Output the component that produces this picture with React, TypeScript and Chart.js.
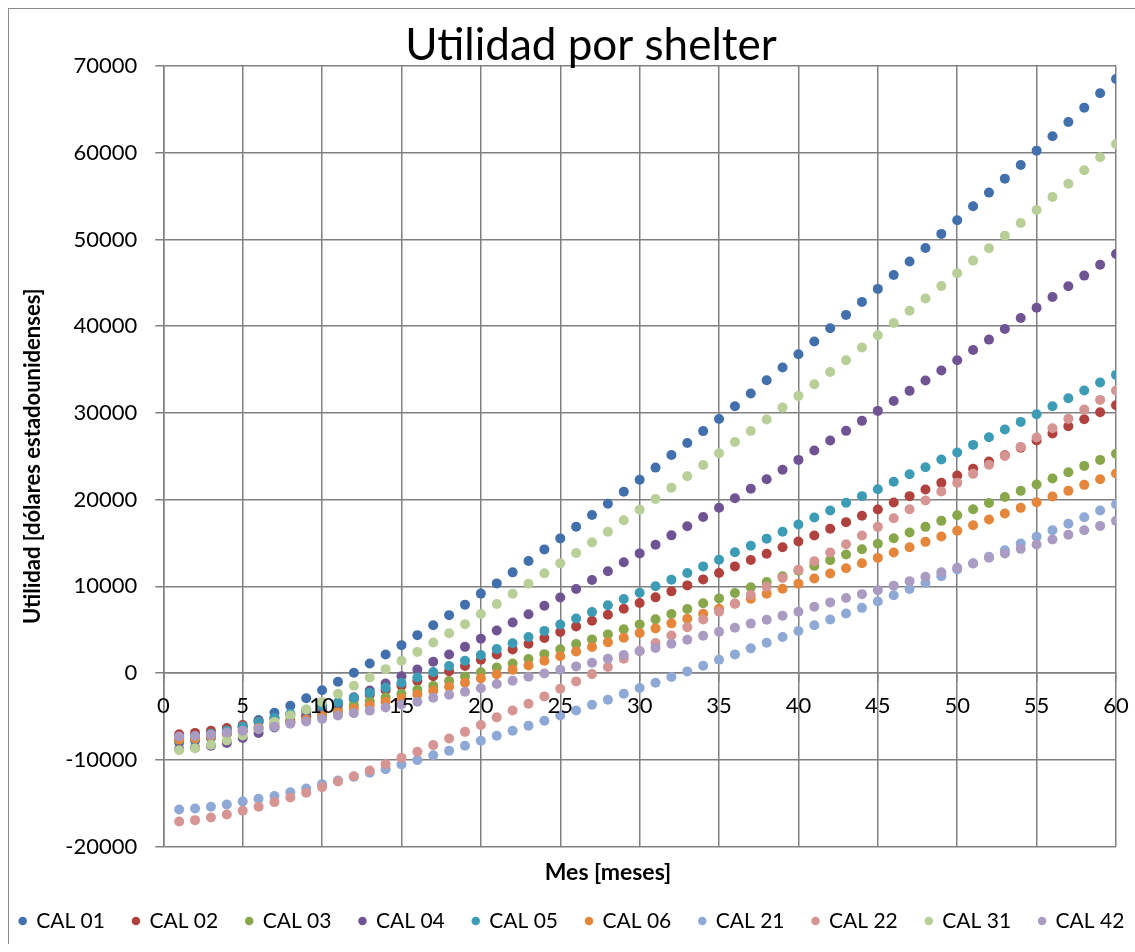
import { useEffect, useRef } from "react";
import { Chart, registerables } from "chart.js";

Chart.register(...registerables);

// Month index (x axis)
const MONTHS = [
  1, 2, 3, 4, 5, 6, 7, 8, 9, 10, 11, 12, 13, 14, 15, 16, 17, 18, 19, 20,
  21, 22, 23, 24, 25, 26, 27, 28, 29, 30, 31, 32, 33, 34, 35, 36, 37, 38, 39, 40,
  41, 42, 43, 44, 45, 46, 47, 48, 49, 50, 51, 52, 53, 54, 55, 56, 57, 58, 59, 60,
];

// Accumulated profit per shelter type, USD
const CAL_01 = [
  -8000, -7800, -7450, -6950, -6250, -5420, -4570, -3770, -2910, -1990,
  -1010, 30, 1100, 2140, 3220, 4370, 5520, 6680, 7890, 9160,
  10340, 11610, 12920, 14260, 15530, 16880, 18230, 19530, 20920, 22300,
  23690, 25150, 26530, 27900, 29300, 30770, 32230, 33770, 35230, 36760,
  38230, 39760, 41300, 42800, 44300, 45910, 47450, 49020, 50640, 52210,
  53830, 55400, 57010, 58590, 60240, 61890, 63550, 65200, 66860, 68510,
];
const CAL_02 = [
  -7050, -6900, -6650, -6350, -5980, -5600, -5220, -4820, -4400, -3960,
  -3500, -3000, -2500, -1980, -1450, -900, -360, 220, 820, 1530,
  2150, 2730, 3380, 4040, 4730, 5380, 6040, 6730, 7420, 8070,
  8730, 9420, 10110, 10800, 11540, 12300, 13030, 13760, 14500, 15180,
  15860, 16630, 17400, 18130, 18860, 19670, 20400, 21170, 21930, 22780,
  23550, 24390, 25120, 25970, 26810, 27620, 28460, 29270, 30080, 30890,
];
const CAL_03 = [
  -7750, -7600, -7350, -7050, -6650, -6250, -5800, -5400, -5000, -4600,
  -4150, -3700, -3250, -2820, -2380, -1930, -1480, -920, -420, 100,
  630, 1110, 1620, 2180, 2740, 3340, 3880, 4460, 5040, 5610,
  6190, 6810, 7380, 8040, 8610, 9230, 9880, 10500, 11150, 11800,
  12360, 13020, 13670, 14280, 14900, 15550, 16200, 16860, 17550, 18200,
  18890, 19620, 20310, 21010, 21740, 22430, 23160, 23890, 24580, 25280,
];
const CAL_04 = [
  -8750, -8600, -8380, -8060, -7480, -6900, -6280, -5640, -4970, -4280,
  -3560, -2800, -2020, -1210, -360, 410, 1300, 2140, 3020, 3970,
  4900, 5820, 6780, 7760, 8720, 9700, 10730, 11730, 12770, 13800,
  14800, 15880, 16920, 17990, 19070, 20150, 21260, 22340, 23450, 24580,
  25660, 26810, 27930, 29080, 30230, 31380, 32540, 33730, 34880, 36070,
  37260, 38450, 39680, 40950, 42120, 43370, 44600, 45830, 47090, 48320,
];
const CAL_05 = [
  -7400, -7250, -7000, -6650, -6150, -5650, -5150, -4700, -4230, -3800,
  -3370, -2850, -2280, -1680, -1110, -510, 110, 800, 1420, 2090,
  2760, 3440, 4160, 4860, 5590, 6290, 7040, 7810, 8540, 9270,
  10000, 10770, 11540, 12300, 13070, 13920, 14690, 15500, 16300, 17140,
  17930, 18740, 19630, 20400, 21200, 22050, 22930, 23740, 24620, 25430,
  26310, 27200, 28080, 28960, 29850, 30770, 31690, 32580, 33500, 34380,
];
const CAL_06 = [
  -7650, -7500, -7250, -7000, -6700, -6350, -6050, -5700, -5350, -4950,
  -4550, -4120, -3720, -3320, -2920, -2480, -2030, -1580, -1120, -610,
  -130, 370, 870, 1410, 1940, 2480, 3000, 3540, 4080, 4610,
  5150, 5730, 6270, 6840, 7420, 8000, 8570, 9150, 9730, 10310,
  10900, 11480, 12090, 12670, 13280, 13900, 14510, 15130, 15740, 16400,
  17050, 17710, 18400, 19050, 19700, 20360, 21010, 21700, 22350, 23010,
];
const CAL_21 = [
  -15730, -15610, -15420, -15150, -14810, -14500, -14190, -13740, -13310, -12810,
  -12380, -11970, -11500, -11080, -10540, -10040, -9470, -8970, -8390, -7810,
  -7230, -6650, -6080, -5500, -4880, -4310, -3650, -3080, -2380, -1730,
  -1120, -460, 190, 850, 1540, 2150, 2850, 3500, 4150, 4840,
  5520, 6180, 6870, 7520, 8250, 8980, 9690, 10380, 11170, 11940,
  12650, 13400, 14170, 14940, 15710, 16470, 17210, 17970, 18740, 19470,
];
const CAL_22 = [
  -17110, -16960, -16650, -16300, -15880, -15420, -14880, -14350, -13810, -13150,
  -12500, -11890, -11240, -10500, -9770, -9080, -8310, -7540, -6780, -5980,
  -5110, -4310, -3540, -2690, -1810, -960, -120, 690, 1650, 2550,
  3460, 4340, 5280, 6170, 7060, 8030, 9000, 9970, 10970, 11900,
  12900, 13900, 14860, 15860, 16860, 17860, 18890, 19890, 20930, 21930,
  22970, 24010, 25040, 26080, 27160, 28230, 29310, 30380, 31500, 32580,
];
const CAL_31 = [
  -8900, -8680, -8260, -7760, -7200, -6450, -5630, -4880, -4200, -3330,
  -2400, -1470, -510, 450, 1410, 2440, 3520, 4600, 5640, 6820,
  7960, 9150, 10300, 11500, 12650, 13840, 15070, 16300, 17610, 18840,
  20070, 21380, 22690, 23990, 25340, 26650, 27910, 29230, 30610, 31960,
  33310, 34720, 36070, 37530, 38950, 40370, 41780, 43180, 44640, 46100,
  47560, 48990, 50440, 51900, 53400, 54900, 56430, 57970, 59470, 61010,
];
const CAL_42 = [
  -7310, -7250, -7100, -6850, -6660, -6430, -6200, -5850, -5580, -5300,
  -4900, -4620, -4330, -3980, -3620, -3300, -2850, -2500, -2150, -1760,
  -1270, -880, -420, -60, 380, 770, 1190, 1650, 2080, 2520,
  2900, 3380, 3840, 4310, 4770, 5230, 5700, 6150, 6620, 7070,
  7640, 8150, 8650, 9100, 9560, 10080, 10600, 11100, 11630, 12130,
  12630, 13290, 13790, 14320, 14820, 15400, 15940, 16470, 16970, 17550,
];

const SERIES_NAMES = [
  "CAL 01", "CAL 02", "CAL 03", "CAL 04", "CAL 05",
  "CAL 06", "CAL 21", "CAL 22", "CAL 31", "CAL 42",
];
const SERIES_VALUES = [
  CAL_01, CAL_02, CAL_03, CAL_04, CAL_05,
  CAL_06, CAL_21, CAL_22, CAL_31, CAL_42,
];
const SERIES_COLORS = [
  "#4270AC", "#B0413D", "#87A74A", "#6F5393", "#3D9CB5",
  "#E5863A", "#8EA9D6", "#D69493", "#B8CF97", "#A99BC2",
];

const CHART_TITLE = "Utilidad por shelter";
const X_TITLE = "Mes [meses]";
const Y_TITLE = "Utilidad [dólares estadounidenses]";

const X_MIN = 0;
const X_MAX = 60;
const X_STEP = 5;
const Y_MIN = -20000;
const Y_MAX = 70000;
const Y_STEP = 10000;

const FONT = "Lato, 'Open Sans', sans-serif";
const GRID = "#808080";
const GRID_WIDTH = 1.5;

// Canvas is shifted 16px left of the page so the wide legend stays centred
const CANVAS_W = 1176;
const CANVAS_H = 935;

const headingPlugin = {
  id: "headingText",
  afterDraw(chart: Chart) {
    const { ctx } = chart;
    ctx.save();
    ctx.fillStyle = "#000";
    ctx.textAlign = "center";
    ctx.textBaseline = "middle";
    ctx.font = `44px ${FONT}`;
    ctx.fillText(CHART_TITLE, 607, 37);
    ctx.font = `bold 23px ${FONT}`;
    ctx.fillText(X_TITLE, 624, 864);
    ctx.restore();
  },
};

export default function App() {
  const canvasRef = useRef<HTMLCanvasElement | null>(null);

  useEffect(() => {
    const canvas = canvasRef.current;
    if (!canvas) return;

    const datasets = SERIES_NAMES.map((name, s) => ({
      label: name,
      data: MONTHS.map((m, i) => ({ x: m, y: SERIES_VALUES[s][i] })),
      backgroundColor: SERIES_COLORS[s],
      borderColor: SERIES_COLORS[s],
      pointBackgroundColor: SERIES_COLORS[s],
      pointRadius: 5,
      pointHoverRadius: 5,
      pointBorderWidth: 0,
      borderWidth: 0,
      pointStyle: "circle",
      showLine: false,
      // later series are painted on top
      order: SERIES_NAMES.length - s,
    }));

    const tickFont = { family: FONT, size: 22 };

    const chart = new Chart(canvas, {
      type: "scatter",
      data: { datasets },
      plugins: [headingPlugin],
      options: {
        animation: false,
        responsive: false,
        maintainAspectRatio: false,
        layout: { padding: { left: 0, right: 0, top: 57, bottom: 2.5 } },
        plugins: {
          title: { display: false },
          tooltip: { enabled: false },
          legend: {
            position: "bottom",
            labels: {
              usePointStyle: true,
              pointStyle: "circle",
              boxWidth: 6,
              boxHeight: 6,
              padding: 28,
              color: "#000",
              font: { family: FONT, size: 21 },
              sort: (a: any, b: any) => a.datasetIndex - b.datasetIndex,
            },
          },
        },
        scales: {
          x: {
            type: "linear",
            position: { y: 0 },
            min: X_MIN,
            max: X_MAX,
            ticks: {
              stepSize: X_STEP,
              color: "#000",
              font: tickFont,
              padding: 12,
              z: 1,
              callback: (v: any) => String(v),
            },
            grid: { color: GRID, lineWidth: GRID_WIDTH, tickLength: 8 },
            border: { color: GRID, width: GRID_WIDTH },
            afterFit: (s: any) => {
              s.height = 0;
            },
          },
          xGap: {
            type: "linear",
            position: "bottom",
            display: true,
            ticks: { display: false },
            grid: { display: false },
            border: { display: false },
            afterFit: (s: any) => {
              s.height = 36;
            },
          },
          y: {
            type: "linear",
            position: "left",
            min: Y_MIN,
            max: Y_MAX,
            ticks: {
              stepSize: Y_STEP,
              color: "#000",
              font: tickFont,
              padding: 18,
              callback: (v: any) => String(v),
            },
            grid: { color: GRID, lineWidth: GRID_WIDTH, tickLength: 8 },
            border: { color: GRID, width: GRID_WIDTH },
            title: {
              display: true,
              text: Y_TITLE,
              color: "#000",
              font: { family: FONT, size: 22, weight: "bold" },
              padding: { top: 36, bottom: 0 },
            },
            afterFit: (s: any) => {
              s.width = 179.3;
            },
          },
          yRight: {
            type: "linear",
            position: "right",
            display: true,
            ticks: { display: false },
            grid: { display: false },
            border: { display: false },
            afterFit: (s: any) => {
              s.width = 44;
            },
          },
        },
      } as any,
    });

    return () => chart.destroy();
  }, []);

  return (
    <div
      style={{
        position: "fixed",
        left: 8,
        top: 8,
        width: 1126,
        height: CANVAS_H,
        overflow: "hidden",
        borderLeft: "1px solid #8c8c8c",
        borderTop: "1px solid #8c8c8c",
        background: "#fff",
      }}
    >
      <canvas
        ref={canvasRef}
        width={CANVAS_W}
        height={CANVAS_H}
        style={{
          position: "absolute",
          left: -25,
          top: 0,
          width: CANVAS_W,
          height: CANVAS_H,
        }}
      />
    </div>
  );
}
